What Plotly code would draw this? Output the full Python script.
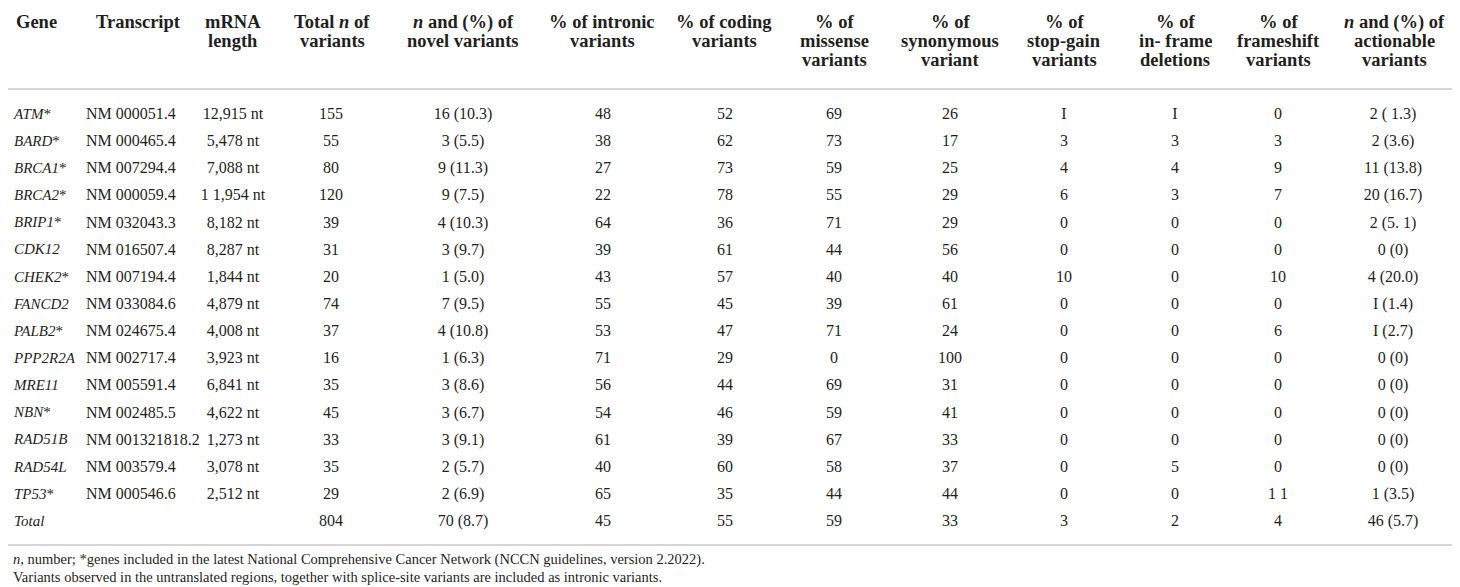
import plotly.graph_objects as go

# table data
genes = ["ATM*", "BARD*", "BRCA1*", "BRCA2*", "BRIP1*", "CDK12", "CHEK2*", "FANCD2",
         "PALB2*", "PPP2R2A", "MRE11", "NBN*", "RAD51B", "RAD54L", "TP53*", "Total"]
transcripts = ["NM 000051.4", "NM 000465.4", "NM 007294.4", "NM 000059.4", "NM 032043.3",
               "NM 016507.4", "NM 007194.4", "NM 033084.6", "NM 024675.4", "NM 002717.4",
               "NM 005591.4", "NM 002485.5", "NM 001321818.2", "NM 003579.4", "NM 000546.6", ""]
mrna_length = ["12,915 nt", "5,478 nt", "7,088 nt", "1 1,954 nt", "8,182 nt", "8,287 nt",
               "1,844 nt", "4,879 nt", "4,008 nt", "3,923 nt", "6,841 nt", "4,622 nt",
               "1,273 nt", "3,078 nt", "2,512 nt", ""]
total_variants = [155, 55, 80, 120, 39, 31, 20, 74, 37, 16, 35, 45, 33, 35, 29, 804]
novel_variants = ["16 (10.3)", "3 (5.5)", "9 (11.3)", "9 (7.5)", "4 (10.3)", "3 (9.7)",
                  "1 (5.0)", "7 (9.5)", "4 (10.8)", "1 (6.3)", "3 (8.6)", "3 (6.7)",
                  "3 (9.1)", "2 (5.7)", "2 (6.9)", "70 (8.7)"]
pct_intronic = [48, 38, 27, 22, 64, 39, 43, 55, 53, 71, 56, 54, 61, 40, 65, 45]
pct_coding = [52, 62, 73, 78, 36, 61, 57, 45, 47, 29, 44, 46, 39, 60, 35, 55]
pct_missense = [69, 73, 59, 55, 71, 44, 40, 39, 71, 0, 69, 59, 67, 58, 44, 59]
pct_synonymous = [26, 17, 25, 29, 29, 56, 40, 61, 24, 100, 31, 41, 33, 37, 44, 33]
pct_stopgain = ["I", "3", "4", "6", "0", "0", "10", "0", "0", "0", "0", "0", "0", "0", "0", "3"]
pct_inframe = ["I", "3", "4", "3", "0", "0", "0", "0", "0", "0", "0", "0", "0", "5", "0", "2"]
pct_frameshift = ["0", "3", "9", "7", "0", "0", "10", "0", "6", "0", "0", "0", "0", "0", "1 1", "4"]
actionable = ["2 ( 1.3)", "2 (3.6)", "11 (13.8)", "20 (16.7)", "2 (5. 1)", "0 (0)", "4 (20.0)",
              "I (1.4)", "I (2.7)", "0 (0)", "0 (0)", "0 (0)", "0 (0)", "0 (0)", "1 (3.5)", "46 (5.7)"]

headers = ["Gene", "Transcript", "mRNA<br>length", "Total <i>n</i> of<br>variants",
           "<i>n</i> and (%) of<br>novel variants", "% of intronic<br>variants",
           "% of coding<br>variants", "% of<br>missense<br>variants",
           "% of<br>synonymous<br>variant", "% of<br>stop-gain<br>variants",
           "% of<br>in- frame<br>deletions", "% of<br>frameshift<br>variants",
           "<i>n</i> and (%) of<br>actionable<br>variants"]

footnotes = [
    "<i>n</i>, number; *genes included in the latest National Comprehensive Cancer Network "
    "(NCCN guidelines, version 2.2022).",
    "Variants observed in the untranslated regions, together with splice-site variants "
    "are included as intronic variants.",
]

W, H = 1460, 587
TEXT = "#231f20"
RULE = "#d6d6d6"
SERIF = "Liberation Serif"

# row i sits at y = i; row 0 centred at 107 px, 27.14 px per row
ROW0, ROWH = 107, 27.14
y_top = -ROW0 / ROWH
y_bot = y_top + H / ROWH


def ypix(p):
    return y_top + p / ROWH


gene_text = ["<i>%s</i>%s" % (g.rstrip("*"), "*" if g.endswith("*") else "") for g in genes]

# (values, data x, header x, align, body font size)
columns = [
    (gene_text, 6, 6, "left", 15),
    (transcripts, 78, 86, "left", 16),
    (mrna_length, 225, 225, "center", 16),
    (total_variants, 323, 324, "center", 16),
    (novel_variants, 455, 455, "center", 16),
    (pct_intronic, 595, 594, "center", 16),
    (pct_coding, 717, 716, "center", 16),
    (pct_missense, 826, 826, "center", 16),
    (pct_synonymous, 942, 942, "center", 16),
    (pct_stopgain, 1056, 1056, "center", 16),
    (pct_inframe, 1167, 1167, "center", 16),
    (pct_frameshift, 1270, 1270, "center", 16),
    (actionable, 1385, 1386, "center", 16),
]

rows = list(range(len(genes)))
fig = go.Figure()

for vals, x, hx, align, fs in columns:
    fig.add_trace(go.Scatter(
        x=[x] * len(vals), y=rows,
        text=[str(v) for v in vals],
        mode="text",
        textposition="middle right" if align == "left" else "middle center",
        textfont=dict(family=SERIF, size=fs, color=TEXT),
        hoverinfo="skip", showlegend=False,
    ))

# header lines placed one by one so the line spacing can be tight
for (vals, x, hx, align, fs), h in zip(columns, headers):
    for k, part in enumerate(h.split("<br>")):
        fig.add_annotation(
            x=hx, y=ypix(14 + 19 * k), xref="x", yref="y",
            text="<b>%s</b>" % part, showarrow=False,
            xanchor="left" if align == "left" else "center", yanchor="middle",
            font=dict(family=SERIF, size=18.5, color=TEXT),
        )

for i, note in enumerate(footnotes):
    fig.add_annotation(
        x=3, y=ypix(551 + 18 * i), xref="x", yref="y",
        text=note, showarrow=False, xanchor="left", yanchor="middle",
        font=dict(family=SERIF, size=14.5, color=TEXT),
    )

# horizontal rules under the header and under the Total row
for p in (81, 537):
    fig.add_shape(type="line", xref="x", yref="y", x0=0, x1=W, y0=ypix(p), y1=ypix(p),
                  line=dict(color=RULE, width=2))

fig.update_layout(
    width=W, height=H,
    margin=dict(l=0, r=0, t=0, b=0),
    paper_bgcolor="white", plot_bgcolor="white",
    xaxis=dict(range=[0, W], visible=False, fixedrange=True),
    yaxis=dict(range=[y_bot, y_top], visible=False, fixedrange=True),
)

fig.write_html("out.html")
